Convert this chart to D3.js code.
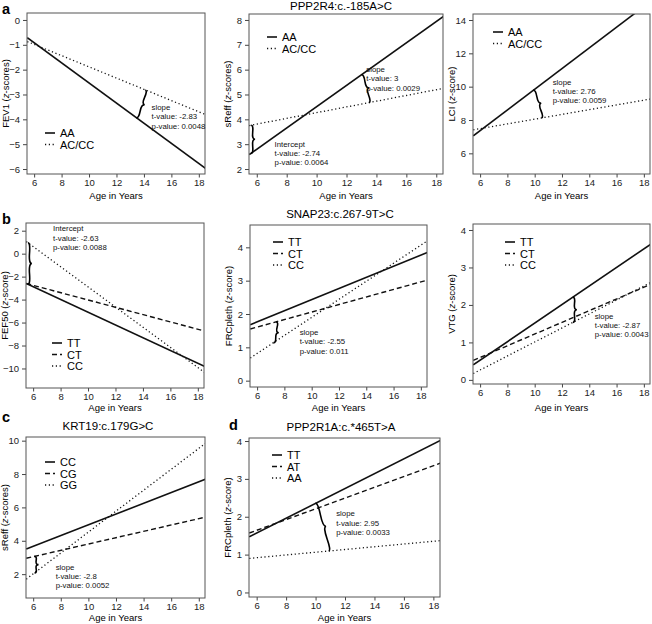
<!DOCTYPE html>
<html>
<head>
<meta charset="utf-8">
<script src="https://cdn.jsdelivr.net/npm/d3@7"></script>
<style>
  body { margin: 0; background: #fff; }
  svg { font-family: "Liberation Sans", Arial, sans-serif; }
  .tick text { font-size: 9.5px; fill: #222; }
  .tick line { stroke: #444; }
</style>
</head>
<body>
<script>
// fitted lines, value at age 5.5 and 18.5
const ages = [5.5, 18.5];
const ageTicks = [6, 8, 10, 12, 14, 16, 18];

const ppp2r4Groups = ["AA", "AC/CC"];
const fev1Fit = [[-0.71, -5.98], [-0.87, -3.81]];
const fev1Ticks = [0, -1, -2, -3, -4, -5, -6];
const fev1Stats = ["slope", "t-value: -2.83", "p-value: 0.0048"];

const sreffFit = [[2.58, 8.15], [3.75, 5.25]];
const sreffTicks = [2, 3, 4, 5, 6, 7, 8];
const sreffSlopeStats = ["slope", "t-value: 3", "p-value: 0.0029"];
const sreffInterceptStats = ["Intercept", "t-value: -2.74", "p-value: 0.0064"];

const lciFit = [[7.05, 15.12], [7.41, 9.26]];
const lciTicks = [6, 8, 10, 12, 14];
const lciStats = ["slope", "t-value: 2.76", "p-value: 0.0059"];

const snap23Groups = ["TT", "CT", "CC"];
const fef50Fit = [[-2.6, -9.83], [-2.6, -6.74], [1.05, -10.35]];
const fef50Ticks = [2, 0, -2, -4, -6, -8, -10];
const fef50Stats = ["Intercept", "t-value: -2.63", "p-value: 0.0088"];

const frcSnapFit = [[1.68, 3.85], [1.55, 3.02], [0.68, 4.2]];
const frcSnapTicks = [0, 1, 2, 3, 4];
const frcSnapStats = ["slope", "t-value: -2.55", "p-value: 0.011"];

const vtgFit = [[0.4, 3.62], [0.52, 2.55], [0.17, 2.6]];
const vtgTicks = [0, 1, 2, 3, 4];
const vtgStats = ["slope", "t-value: -2.87", "p-value: 0.0043"];

const krt19Groups = ["CC", "CG", "GG"];
const sreffKrtFit = [[3.5, 7.7], [2.95, 5.42], [1.7, 9.85]];
const sreffKrtTicks = [2, 4, 6, 8, 10];
const sreffKrtStats = ["slope", "t-value: -2.8", "p-value: 0.0052"];

const ppp2r1aGroups = ["TT", "AT", "AA"];
const frcPppFit = [[1.47, 4.02], [1.57, 3.42], [0.9, 1.37]];
const frcPppTicks = [0, 1, 2, 3, 4];
const frcPppStats = ["slope", "t-value: 2.95", "p-value: 0.0033"];

// layout: box = [left, right, top, bottom]
const panels = [
  { letter: "a", letterY: 13.5, title: null, box: [27, 205, 13, 174], xlabY: 199, yDomain: [-6.2, 0.28], ylab: "FEV1", unit: "scores",
    groups: ppp2r4Groups, fit: fev1Fit, ticks: fev1Ticks, legend: [18, 120],
    notes: [{ text: fev1Stats, at: [14.56, -3.51] }],
    braces: [{ a: [14.1, 1], b: [13.45, 0] }] },
  { title: "PPP2R4:c.-185A>C", titleX: 341, titleY: 10, box: [249, 443, 14, 174], xlabY: 199, yDomain: [1.8, 8.24], ylab: "sReff", unit: "scores",
    groups: ppp2r4Groups, fit: sreffFit, ticks: sreffTicks, legend: [18, 23],
    notes: [{ text: sreffSlopeStats, at: [13.32, 6.03] }, { text: sreffInterceptStats, at: [7.19, 3.02] }],
    braces: [{ a: [5.62, 1], b: [5.62, 0] }, { a: [13.0, 0], b: [13.5, 1] }] },
  { title: null, box: [473, 650, 14, 174], xlabY: 199, yDomain: [4.76, 14.36], ylab: "LCI", unit: "score",
    groups: ppp2r4Groups, fit: lciFit, ticks: lciTicks, legend: [20, 18],
    notes: [{ text: lciStats, at: [11.32, 10.3] }],
    braces: [{ a: [9.9, 0], b: [10.5, 1] }] },
  { letter: "b", letterY: 224, title: null, box: [26, 204, 223, 388], xlabY: 411, yDomain: [-11.7, 2.67], ylab: "FEF50", unit: "score",
    groups: snap23Groups, fit: fef50Fit, ticks: fef50Ticks, legend: [26, 120],
    notes: [{ text: fef50Stats, at: [7.45, 2.21] }],
    braces: [{ a: [5.62, 2], b: [5.62, 0] }] },
  { title: "SNAP23:c.267-9T>C", titleX: 340, titleY: 218, box: [250, 427, 225, 387], xlabY: 411, yDomain: [-0.19, 4.67], ylab: "FRCpleth", unit: "score",
    groups: snap23Groups, fit: frcSnapFit, ticks: frcSnapTicks, legend: [23, 17],
    notes: [{ text: frcSnapStats, at: [9.12, 1.46] }],
    braces: [{ a: [7.4, 1], b: [7.2, 2] }] },
  { title: null, box: [473, 650, 224, 384], xlabY: 411, yDomain: [-0.11, 4.16], ylab: "VTG", unit: "score",
    groups: snap23Groups, fit: vtgFit, ticks: vtgTicks, legend: [32, 18],
    notes: [{ text: vtgStats, at: [14.4, 1.71] }],
    braces: [{ a: [12.8, 0], b: [12.8, 2] }] },
  { letter: "c", letterY: 422, title: "KRT19:c.179G>C", titleX: 108, titleY: 430, box: [26, 205, 437, 598], xlabY: 621, yDomain: [0.57, 10.22], ylab: "sReff", unit: "scores",
    groups: krt19Groups, fit: sreffKrtFit, ticks: sreffKrtTicks, legend: [19, 25],
    notes: [{ text: sreffKrtStats, at: [7.63, 2.44] }],
    braces: [{ a: [6.1, 1], b: [6.1, 2] }] },
  { letter: "d", letterX: 229, letterY: 430, title: "PPP2R1A:c.*465T>A", titleX: 341, titleY: 431, box: [249, 440, 438, 597], xlabY: 621, yDomain: [-0.12, 4.08], ylab: "FRCpleth", unit: "score",
    groups: ppp2r1aGroups, fit: frcPppFit, ticks: frcPppTicks, legend: [23, 17],
    notes: [{ text: frcPppStats, at: [11.4, 2.09] }],
    braces: [{ a: [10.0, 0], b: [10.9, 2] }] }
];

const svg = d3.select("body").append("svg")
  .attr("width", 652)
  .attr("height", 624);

function lineStyle(n, i) {
  if (i === 0) return { dash: null, width: 1.6 };
  if (n === 3 && i === 1) return { dash: "5,3", width: 1.4 };
  return { dash: "1.2,2.6", width: 1.3 };
}

// curly brace between two screen points, tip pushed sideways by w
function bracePath(x1, y1, x2, y2, w, q) {
  let len = Math.hypot(x1 - x2, y1 - y2);
  let dx = (x1 - x2) / len, dy = (y1 - y2) / len;
  let qx1 = x1 + q * w * dy, qy1 = y1 - q * w * dx;
  let qx2 = (x1 - .25 * len * dx) + (1 - q) * w * dy, qy2 = (y1 - .25 * len * dy) - (1 - q) * w * dx;
  let tx = (x1 - .5 * len * dx) + w * dy, ty = (y1 - .5 * len * dy) - w * dx;
  let qx3 = x2 + q * w * dy, qy3 = y2 - q * w * dx;
  let qx4 = (x1 - .75 * len * dx) + (1 - q) * w * dy, qy4 = (y1 - .75 * len * dy) - (1 - q) * w * dx;
  return `M${x1},${y1} Q${qx1},${qy1} ${qx2},${qy2} T${tx},${ty} M${x2},${y2} Q${qx3},${qy3} ${qx4},${qy4} T${tx},${ty}`;
}

panels.forEach((p, pi) => {
  let [l, r, t, b] = p.box;
  let x = d3.scaleLinear().domain([5.48, 18.45]).range([l, r]);
  let y = d3.scaleLinear().domain(p.yDomain).range([b, t]);
  let g = svg.append("g");

  g.append("clipPath").attr("id", "clip" + pi)
    .append("rect").attr("x", l).attr("y", t).attr("width", r - l).attr("height", b - t);

  // axes
  let gx = g.append("g")
    .attr("transform", `translate(0,${b})`)
    .call(d3.axisBottom(x).tickValues(ageTicks).tickSize(3.5).tickPadding(1.5).tickFormat(d3.format("d")));
  let gy = g.append("g")
    .attr("transform", `translate(${l},0)`)
    .call(d3.axisLeft(y).tickValues(p.ticks).tickSize(4).tickPadding(3).tickFormat(d3.format("d")));
  gx.select(".domain").remove();
  gy.select(".domain").remove();
  gx.selectAll("text").attr("font-family", null).attr("font-size", null);
  gy.selectAll("text").attr("font-family", null).attr("font-size", null);

  // fitted lines
  let line = d3.line().x(d => x(d[0])).y(d => y(d[1]));
  let n = p.fit.length;
  g.append("g").attr("clip-path", `url(#clip${pi})`)
    .selectAll("path")
    .data(p.fit)
    .join("path")
    .attr("d", d => line(ages.map((a, k) => [a, d[k]])))
    .attr("fill", "none")
    .attr("stroke", "#111")
    .attr("stroke-width", (d, i) => lineStyle(n, i).width)
    .attr("stroke-dasharray", (d, i) => lineStyle(n, i).dash);

  g.append("rect")
    .attr("x", l).attr("y", t).attr("width", r - l).attr("height", b - t)
    .attr("fill", "none").attr("stroke", "#555").attr("stroke-width", 1);

  // value of series i at age a
  let at = (a, i) => {
    let d = p.fit[i];
    return d[0] + (d[1] - d[0]) * (a - ages[0]) / (ages[1] - ages[0]);
  };

  p.braces.forEach(br => {
    g.append("path")
      .attr("d", bracePath(x(br.a[0]), y(at(br.a[0], br.a[1])), x(br.b[0]), y(at(br.b[0], br.b[1])), -4, 0.6))
      .attr("fill", "none")
      .attr("stroke", "#000")
      .attr("stroke-width", 1.6);
  });

  p.notes.forEach(nt => {
    let txt = g.append("text")
      .attr("x", x(nt.at[0]))
      .attr("y", y(nt.at[1]) + 3)
      .attr("font-size", 7.8)
      .attr("fill", "#111");
    nt.text.forEach((s, k) => {
      txt.append("tspan").attr("x", x(nt.at[0])).attr("dy", k ? 9.3 : 0).text(s);
    });
  });

  // legend
  let leg = g.append("g").attr("transform", `translate(${l + p.legend[0]},${t + p.legend[1]})`);
  p.groups.forEach((name, i) => {
    let st = lineStyle(n, i);
    leg.append("line")
      .attr("x1", 0).attr("x2", 10).attr("y1", i * 11.5).attr("y2", i * 11.5)
      .attr("stroke", "#111").attr("stroke-width", st.width)
      .attr("stroke-dasharray", st.dash);
    leg.append("text")
      .attr("x", 15).attr("y", i * 11.5 + 4)
      .attr("font-size", 11)
      .text(name);
  });

  // axis titles
  g.append("text")
    .attr("x", (l + r) / 2).attr("y", p.xlabY)
    .attr("text-anchor", "middle").attr("font-size", 9.5)
    .text("Age in Years");
  let yl = g.append("text")
    .attr("transform", `translate(${l - 18},${(t + b) / 2}) rotate(-90)`)
    .attr("text-anchor", "middle").attr("font-size", 9.5);
  yl.append("tspan").text(p.ylab + " (");
  yl.append("tspan").attr("font-style", "italic").text("z");
  yl.append("tspan").text("-" + p.unit + ")");

  if (p.title) {
    g.append("text")
      .attr("x", p.titleX).attr("y", p.titleY)
      .attr("text-anchor", "middle").attr("font-size", 11.5)
      .text(p.title);
  }
  if (p.letter) {
    g.append("text")
      .attr("x", p.letterX || 2).attr("y", p.letterY)
      .attr("font-size", 14.5).attr("font-weight", "bold")
      .text(p.letter);
  }
});
</script>
</body>
</html>
